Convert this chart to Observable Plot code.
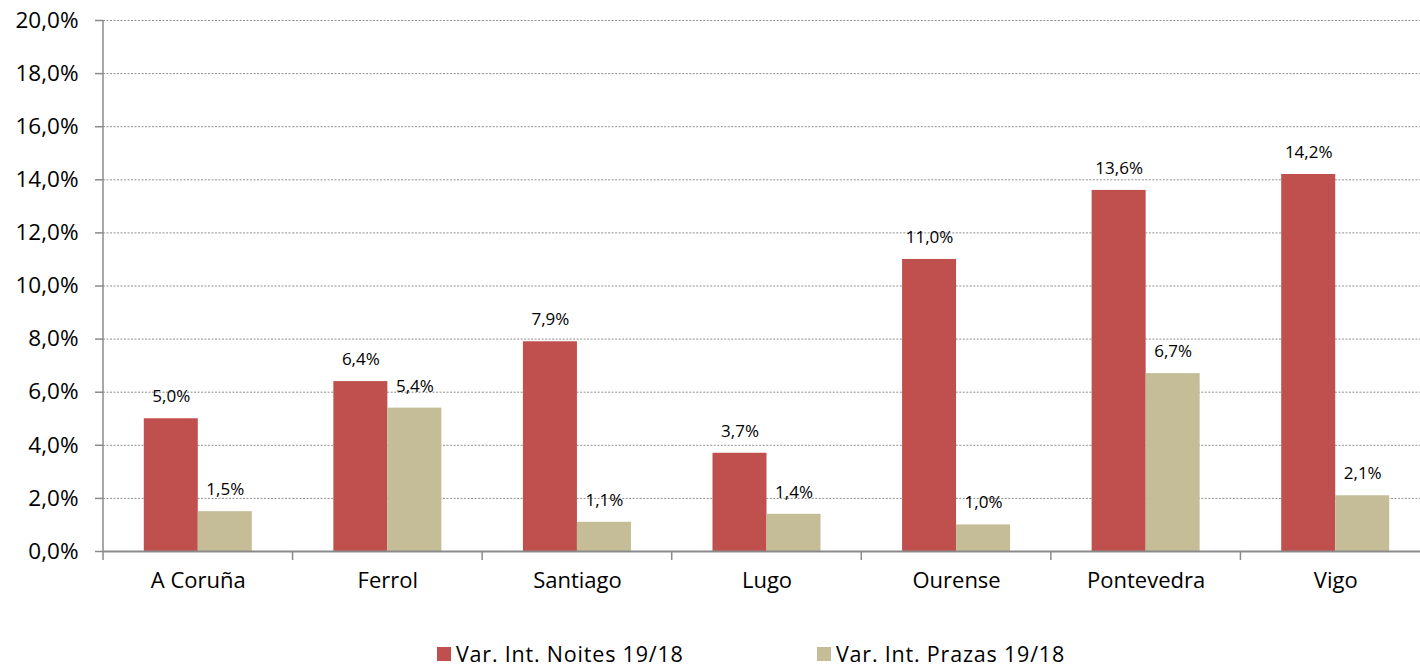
<!DOCTYPE html>
<html>
<head>
<meta charset="utf-8">
<script src="https://cdn.jsdelivr.net/npm/d3@7"></script>
<script src="https://cdn.jsdelivr.net/npm/@observablehq/plot@0.6"></script>
<style>
  html, body { margin: 0; padding: 0; background: #fff; overflow: hidden; }
  #wrap { position: relative; width: 1420px; height: 669px; font-family: "Open Sans", sans-serif; }
  #chart svg { overflow: hidden; }
  .leg { position: absolute; top: 643px; height: 22px; display: flex; align-items: center; font-size: 21.5px; letter-spacing: 0.8px; line-height: 22px; color: #000; white-space: nowrap; }
  .leg span { display: inline-block; height: 22px; line-height: 22px; }
  .sw { width: 14px; height: 14px; margin-right: 5px; }
</style>
</head>
<body>
<div id="wrap">
  <div id="chart"></div>
  <div id="legend"></div>
</div>
<script>
const categories = ["A Coruña", "Ferrol", "Santiago", "Lugo", "Ourense", "Pontevedra", "Vigo"];
const seriesNames = ["Var. Int. Noites 19/18", "Var. Int. Prazas 19/18"];
const noites = [5.0, 6.4, 7.9, 3.7, 11.0, 13.6, 14.2];
const prazas = [1.5, 5.4, 1.1, 1.4, 1.0, 6.7, 2.1];
const colors = ["#C0504D", "#C4BD97"];
const yTicks = [0, 2, 4, 6, 8, 10, 12, 14, 16, 18, 20];

const fmt = v => v.toFixed(1).replace(".", ",") + "%";

const data = categories.flatMap((c, i) => [
  {cat: c, series: seriesNames[0], value: noites[i]},
  {cat: c, series: seriesNames[1], value: prazas[i]}
]);

const chart = Plot.plot({
  width: 1420,
  height: 640,
  marginTop: 20,
  marginBottom: 89,
  marginLeft: 103,
  marginRight: -10,
  style: {fontFamily: "Open Sans, sans-serif", color: "#000", background: "transparent"},
  fx: {domain: categories, paddingInner: 0, paddingOuter: 0, round: false, label: null},
  x: {domain: seriesNames, paddingInner: 0, paddingOuter: 0.755, round: false, axis: null},
  y: {domain: [0, 20], label: null},
  color: {domain: seriesNames, range: colors},
  marks: [
    Plot.gridY(yTicks, {stroke: "#8f8f8f", strokeOpacity: 1, strokeDasharray: "2,1.5", strokeWidth: 1}),
    Plot.barY(data, {fx: "cat", x: "series", y: "value", fill: "series", inset: 0}),
    Plot.text(data, {fx: "cat", x: "series", y: "value", text: d => fmt(d.value), dy: -22, fontSize: 17, fill: "#000"}),
    Plot.ruleY([0], {stroke: "#8a8a8a", strokeWidth: 2}),
    Plot.axisY(yTicks, {tickFormat: v => v.toFixed(1).replace(".", ",") + "%", tickSize: 8, tickPadding: 17, fontSize: 22.5, stroke: "#8a8a8a", strokeWidth: 1.5, label: null}),
    Plot.axisFx({anchor: "bottom", tickSize: 0, tickPadding: 21, fontSize: 22, label: null})
  ]
});

document.getElementById("chart").appendChild(chart);

// axis line and category boundary ticks from the library's scales
const fxs = chart.scale("fx");
const ys = chart.scale("y");
const svg = d3.select(chart);
const g = svg.append("g").attr("stroke", "#8a8a8a").attr("stroke-width", 1.5);
const x0 = fxs.apply(categories[0]);
g.append("line").attr("x1", x0).attr("x2", x0).attr("y1", ys.apply(20)).attr("y2", ys.apply(0) + 9);
categories.forEach((c, i) => {
  if (i === 0) return;
  const xv = fxs.apply(c);
  g.append("line").attr("x1", xv).attr("x2", xv).attr("y1", ys.apply(0)).attr("y2", ys.apply(0) + 9);
});

// legend
const legend = document.getElementById("legend");
const legLeft = [437, 817];
seriesNames.forEach((s, i) => {
  const item = document.createElement("div");
  item.className = "leg";
  item.style.left = legLeft[i] + "px";
  item.innerHTML = `<div class="sw" style="background:${colors[i]}"></div><span>${s}</span>`;
  legend.appendChild(item);
});
</script>
</body>
</html>
